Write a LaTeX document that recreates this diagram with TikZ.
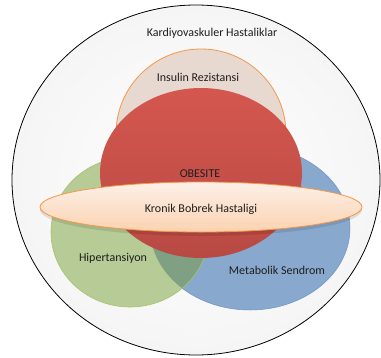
\documentclass[tikz,border=0pt]{standalone}
\usepackage{fontspec}
\setmainfont{Carlito}
\definecolor{outerfill}{HTML}{F5F5F5}
\definecolor{insfill}{HTML}{E8D9D0}
\definecolor{orangeline}{HTML}{F79646}
\definecolor{redtop}{HTML}{D4574F}
\definecolor{redbot}{HTML}{B84A43}
\definecolor{greenfill}{HTML}{B7CB96}
\definecolor{greenline}{HTML}{A5C46A}
\definecolor{bluefill}{HTML}{88A9CD}
\definecolor{blueline}{HTML}{6C93C4}
\definecolor{overlapfill}{HTML}{80A084}
\definecolor{kbtop}{HTML}{FDF0E8}
\definecolor{kbbot}{HTML}{FBD2B0}
\definecolor{labeltext}{HTML}{1E1E1E}
\tikzset{
  lbl/.style={text=labeltext, inner sep=0pt, font=\fontsize{12}{14}\selectfont},
}
\begin{document}
\begin{tikzpicture}[x=1pt,y=-1pt]
\useasboundingbox (0,0) rectangle (381,357);

% outer set: cardiovascular diseases
\draw[black, line width=0.8pt, inner color=white, outer color=outerfill]
  (196,180) ellipse [x radius=184, y radius=175];

% insulin resistance
\draw[orangeline, line width=0.8pt, fill=insfill]
  (201,134) ellipse [x radius=85, y radius=85];

% metabolic syndrome and hypertension, with their overlap
\draw[blueline, line width=0.5pt, fill=bluefill]
  (250,228) ellipse [x radius=100, y radius=82];
\fill[greenfill] (130,232) ellipse [x radius=79, y radius=75];
\begin{scope}
  \clip (250,228) ellipse [x radius=100, y radius=82];
  \fill[overlapfill] (130,232) ellipse [x radius=79, y radius=75];
\end{scope}
\draw[greenline, line width=0.6pt] (130,232) ellipse [x radius=79, y radius=75];

% obesity
\shade[top color=redtop, bottom color=redbot]
  (201,173) ellipse [x radius=101, y radius=85];

% chronic kidney disease band, with a soft shadow
\fill[black, opacity=0.10] (201,210) ellipse [x radius=161, y radius=26];
\draw[orangeline, line width=0.8pt, top color=kbtop, bottom color=kbbot]
  (201,207) ellipse [x radius=161, y radius=25];

% labels
\node[lbl] (kvh) at (212,33) {Kardiyovaskuler Hastaliklar};
\node[lbl] (ir)  at (198,77) {Insulin Rezistansi};
\node[lbl] (ob)  at (200,174) {OBESITE};
\node[lbl] (kbh) at (201,209) {Kronik Bobrek Hastaligi};
\node[lbl] (ht)  at (113,258) {Hipertansiyon};
\node[lbl] (ms)  at (277,270) {Metabolik Sendrom};
\end{tikzpicture}
\end{document}
